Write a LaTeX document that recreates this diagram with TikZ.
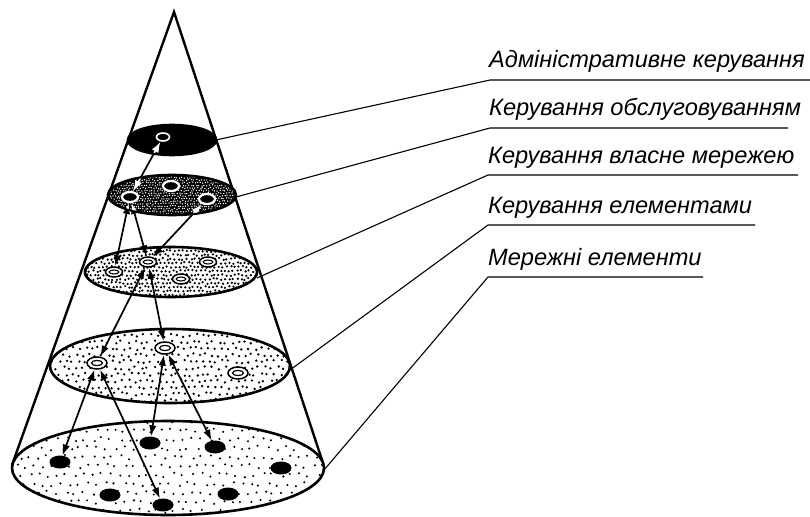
\documentclass[tikz,border=0pt]{standalone}
\usepackage{fontspec}
\setmainfont{Liberation Sans}
\usetikzlibrary{arrows.meta,shapes.geometric}
\tikzset{
  cone/.style={line width=2.4pt},
  layer/.style={ellipse, draw, line width=2.6pt, inner sep=0pt, outer sep=0pt, fill=white},
  dotfill/.style n args={5}{path picture={
      \foreach \i in {0,...,#1} \foreach \j in {0,...,#2} {
        \fill[#4] ([shift={({\i*#3+mod(\j,2)*#3/2+(rnd-0.5)*#3*0.5},{\j*#3+(rnd-0.5)*#3*0.5})}]path picture bounding box.north west) circle (#5pt);
      }}},
  ringA/.style={ellipse, draw=white, line width=1.6pt, fill=black, minimum width=13pt, minimum height=8pt, inner sep=0pt},
  ringB/.style={ellipse, draw=white, line width=2.2pt, fill=black, minimum width=16pt, minimum height=10pt, inner sep=0pt},
  ringC/.style={ellipse, draw, line width=1.5pt, fill=white, minimum width=17pt, minimum height=10pt, inner sep=0pt,
      path picture={\draw[line width=1.1pt] (path picture bounding box.center) ellipse [x radius=4.8pt, y radius=2pt];}},
  ringD/.style={ellipse, draw, line width=1.5pt, fill=white, minimum width=20pt, minimum height=12pt, inner sep=0pt,
      path picture={\draw[line width=1.2pt] (path picture bounding box.center) ellipse [x radius=5.5pt, y radius=2.6pt];}},
  elem/.style={ellipse, fill=black, minimum width=21pt, minimum height=13pt, inner sep=0pt},
  conn/.style={line width=1.7pt, {Latex[length=11pt,width=7.5pt]}-{Latex[length=11pt,width=7.5pt]}},
  leader/.style={line width=1.1pt},
  lbl/.style={font=\fontsize{23.6}{28}\selectfont\itshape, anchor=base west, inner sep=0pt},
}
\begin{document}
\begin{tikzpicture}[x=1pt,y=-1pt]
\useasboundingbox (0,0) rectangle (810,516);
\pgfmathsetseed{7}
% cone
\coordinate (apex) at (174,12);
\coordinate (bl) at (12,465);
\coordinate (br) at (323,463);
\draw[cone] (bl) -- (apex) -- (br);
% layers
\node[layer, minimum width=312pt, minimum height=94pt, dotfill={35}{11}{9}{black}{1.15}] (L5) at (168,468) {};
\node[layer, minimum width=240pt, minimum height=74pt, dotfill={37}{12}{6.5}{black}{1.3}] (L4) at (170,366) {};
\node[layer, minimum width=172pt, minimum height=50pt, dotfill={43}{13}{4}{black}{1.25}] (L3) at (171,272) {};
\node[layer, fill=black, minimum width=128pt, minimum height=40pt, dotfill={50}{16}{2.6}{white}{0.75}] (L2) at (172,195) {};
\node[layer, fill=black, minimum width=88pt, minimum height=30pt] (L1) at (172,140) {};
% elements
\node[ringA] (a1) at (163,137) {};
\node[ringB] (b1) at (130,197) {};
\node[ringB] (b2) at (171,186) {};
\node[ringB] (b3) at (207,199) {};
\node[ringC] (c1) at (114,272) {};
\node[ringC] (c2) at (148,262) {};
\node[ringC] (c3) at (208,262) {};
\node[ringC] (c4) at (181,279) {};
\node[ringD] (d1) at (97,363) {};
\node[ringD] (d2) at (165,348) {};
\node[ringD] (d3) at (238,373) {};
\node[elem] (e1) at (60,462) {};
\node[elem] (e2) at (150,443) {};
\node[elem] (e3) at (215,447) {};
\node[elem] (e4) at (281,468) {};
\node[elem] (e5) at (110,495) {};
\node[elem] (e6) at (163,505) {};
\node[elem] (e7) at (228,494) {};
% connectors
\draw[conn] (a1) -- (b1);
\draw[conn] (b1) -- (c1);
\draw[conn] (b1) -- (c2);
\draw[conn] (b3) -- (c2);
\draw[conn] (c2) -- (d1);
\draw[conn] (c2) -- (d2);
\draw[conn] (d1) -- (e1);
\draw[conn] (d1) -- (e6);
\draw[conn] (d2) -- (e2);
\draw[conn] (d2) -- (e3);
\begin{scope}
  \clip (172,140) ellipse [x radius=43, y radius=14];
  \draw[conn, white] (a1) -- (b1);
\end{scope}
\begin{scope}
  \clip (172,195) ellipse [x radius=63, y radius=19];
  \draw[conn, white] (a1) -- (b1);
  \draw[conn, white] (b1) -- (c1);
  \draw[conn, white] (b1) -- (c2);
  \draw[conn, white] (b3) -- (c2);
\end{scope}
% labels
\node[lbl] (t1) at (489,68) {Адміністративне керування};
\node[lbl] (t2) at (489,116) {Керування обслуговуванням};
\node[lbl] (t3) at (488,163) {Керування власне мережею};
\node[lbl] (t4) at (488,213) {Керування елементами};
\node[lbl] (t5) at (488,265) {Мережні елементи};
\coordinate (u1) at (490,80);  \coordinate (v1) at (810,80);
\coordinate (u2) at (490,128); \coordinate (v2) at (788,128);
\coordinate (u3) at (488,175); \coordinate (v3) at (798,175);
\coordinate (u4) at (488,225); \coordinate (v4) at (755,225);
\coordinate (u5) at (488,277); \coordinate (v5) at (703,277);
\draw[leader] (L1.east) -- (u1) -- (v1);
\draw[leader] ([yshift=-2pt]L2.east) -- (u2) -- (v2);
\draw[leader] ([yshift=-6pt]L3.east) -- (u3) -- (v3);
\draw[leader] ([yshift=-4pt]L4.east) -- (u4) -- (v4);
\draw[leader] ([yshift=-2pt]L5.east) -- (u5) -- (v5);
\end{tikzpicture}
\end{document}
